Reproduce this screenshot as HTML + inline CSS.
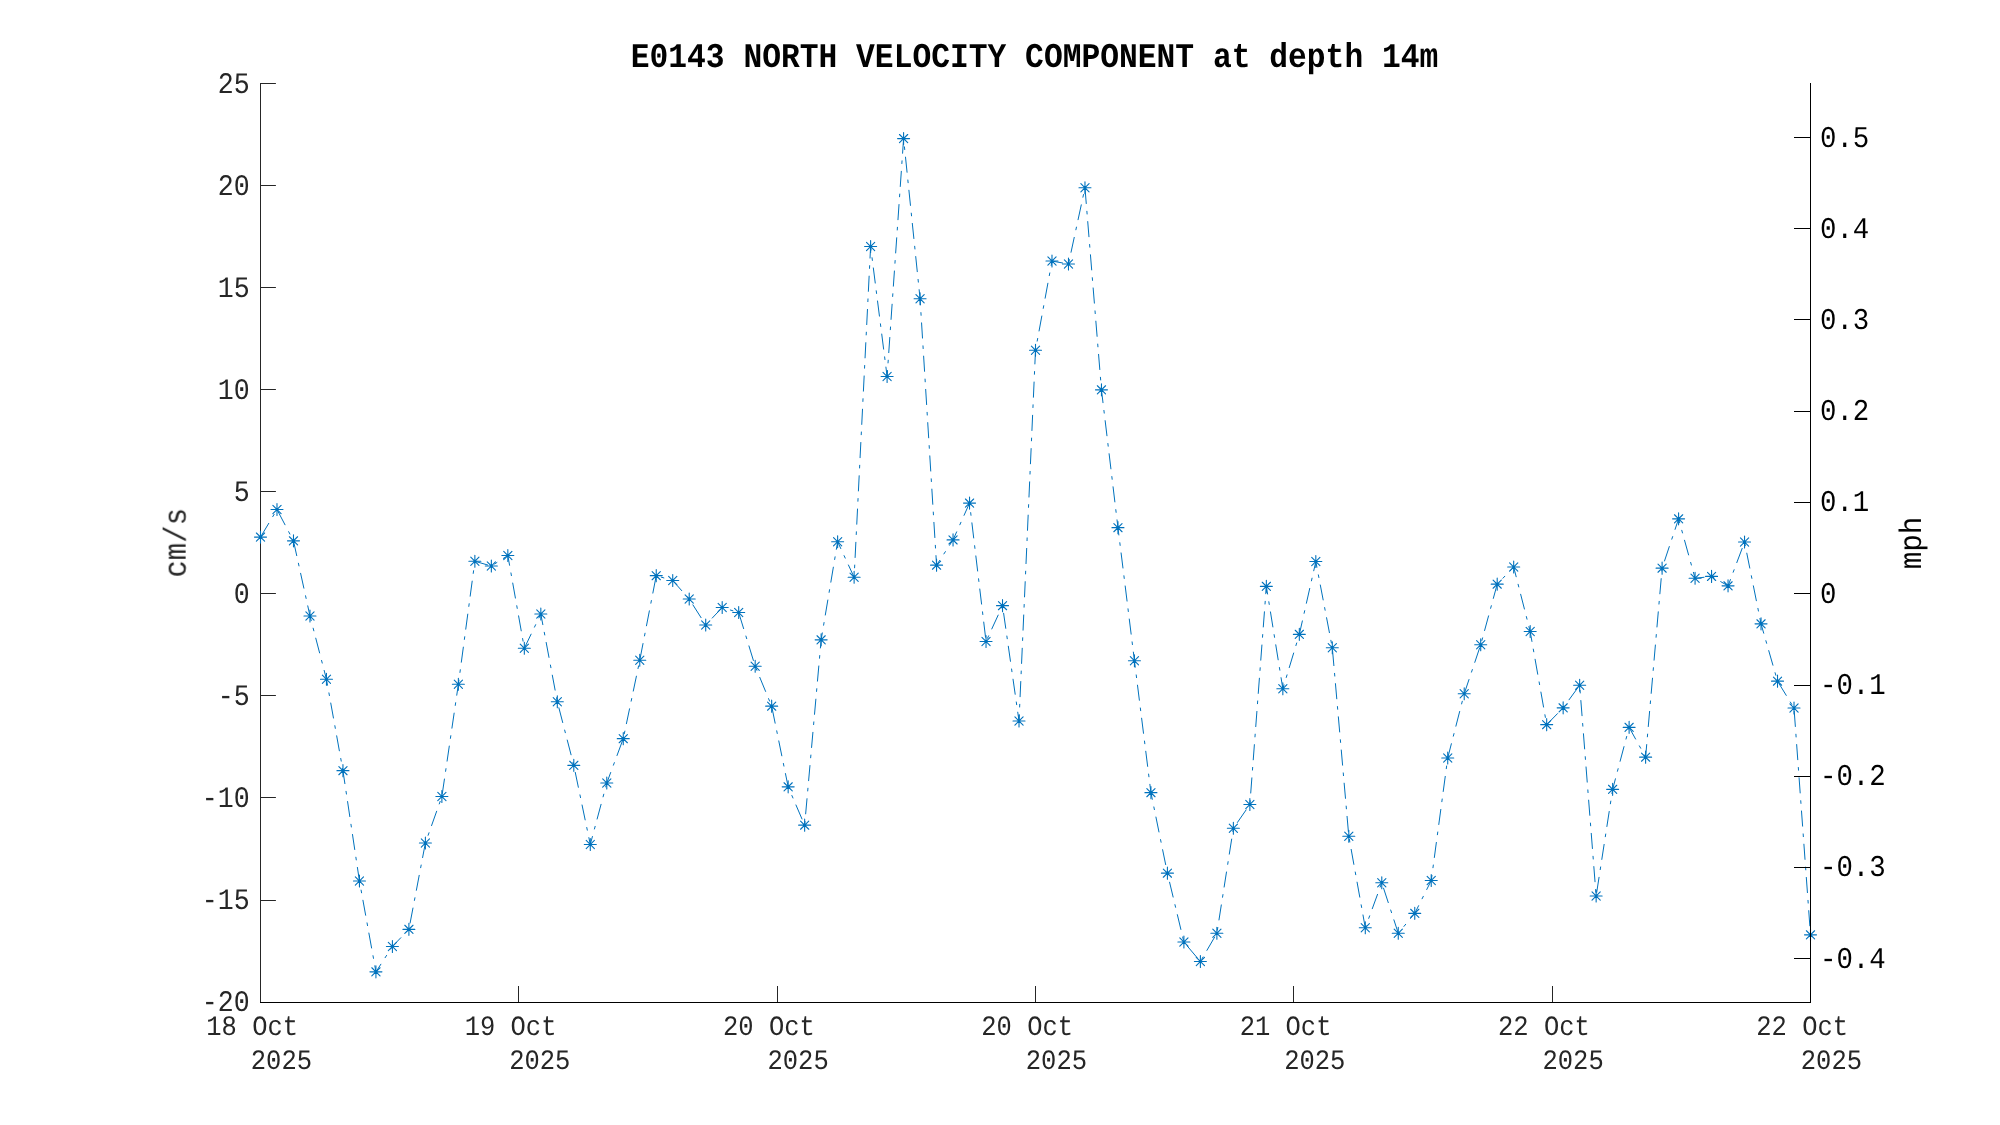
<!DOCTYPE html><html><head><meta charset="utf-8"><style>html,body{margin:0;padding:0;background:#fff;}svg{display:block;}text{font-family:"Liberation Mono",monospace;text-rendering:geometricPrecision;}</style></head><body>
<svg width="2000" height="1125" viewBox="0 0 2000 1125">
<rect width="2000" height="1125" fill="#fff"/>
<path d="M260.5 83.0V1002.5M260.5 83.5h15.4M260.5 185.5h15.4M260.5 287.5h15.4M260.5 389.5h15.4M260.5 491.5h15.4M260.5 593.5h15.4M260.5 695.5h15.4M260.5 797.5h15.4M260.5 900.5h15.4M260.5 1002.5V986M518.5 1002.5V986M777.5 1002.5V986M1035.5 1002.5V986M1293.5 1002.5V986M1552.5 1002.5V986" fill="none" stroke="#262626" stroke-width="1"/>
<polyline points="260.50,537.10 276.99,509.55 293.48,540.85 309.97,615.95 326.46,679.25 342.95,770.65 359.44,881.05 375.93,971.85 392.41,946.45 408.90,929.35 425.39,842.95 441.88,796.55 458.37,684.25 474.86,561.25 491.35,566.05 507.84,555.55 524.33,648.25 540.82,613.95 557.31,701.75 573.80,765.35 590.29,844.45 606.78,783.05 623.27,738.65 639.76,660.25 656.24,575.65 672.73,580.55 689.22,599.05 705.71,624.95 722.20,607.55 738.69,612.55 755.18,666.25 771.67,706.15 788.16,786.85 804.65,825.15 821.14,639.85 837.63,541.75 854.12,577.25 870.61,246.45 887.10,376.45 903.59,138.60 920.07,298.75 936.56,565.15 953.05,539.90 969.54,503.10 986.03,641.45 1002.52,605.65 1019.01,721.05 1035.50,350.25 1051.99,261.05 1068.48,264.05 1084.97,187.75 1101.46,389.85 1117.95,527.65 1134.44,660.75 1150.93,792.65 1167.41,873.15 1183.90,942.05 1200.39,961.55 1216.88,933.25 1233.37,828.25 1249.86,804.55 1266.35,586.35 1282.84,688.75 1299.33,634.35 1315.82,561.55 1332.31,647.75 1348.80,836.25 1365.29,927.75 1381.78,882.75 1398.27,933.25 1414.76,913.35 1431.24,880.55 1447.73,757.95 1464.22,693.75 1480.71,644.75 1497.20,584.15 1513.69,567.05 1530.18,631.55 1546.67,724.65 1563.16,707.85 1579.65,685.25 1596.14,896.05 1612.63,789.35 1629.12,727.35 1645.61,757.15 1662.10,568.15 1678.59,518.85 1695.07,578.30 1711.56,576.40 1728.05,585.85 1744.54,542.05 1761.03,623.85 1777.52,681.15 1794.01,708.05 1810.50,934.85" fill="none" stroke="#0072BD" stroke-width="1" stroke-dasharray="16 7 3.5 6.81" stroke-dashoffset="-0.4" stroke-linejoin="round"/>
<path d="M254.50 537.10h12.0M260.50 531.10v12.0M256.40 533.00l8.2 8.2M256.40 541.20l8.2 -8.2M270.99 509.55h12.0M276.99 503.55v12.0M272.89 505.45l8.2 8.2M272.89 513.65l8.2 -8.2M287.48 540.85h12.0M293.48 534.85v12.0M289.38 536.75l8.2 8.2M289.38 544.95l8.2 -8.2M303.97 615.95h12.0M309.97 609.95v12.0M305.87 611.85l8.2 8.2M305.87 620.05l8.2 -8.2M320.46 679.25h12.0M326.46 673.25v12.0M322.36 675.15l8.2 8.2M322.36 683.35l8.2 -8.2M336.95 770.65h12.0M342.95 764.65v12.0M338.85 766.55l8.2 8.2M338.85 774.75l8.2 -8.2M353.44 881.05h12.0M359.44 875.05v12.0M355.34 876.95l8.2 8.2M355.34 885.15l8.2 -8.2M369.93 971.85h12.0M375.93 965.85v12.0M371.83 967.75l8.2 8.2M371.83 975.95l8.2 -8.2M386.41 946.45h12.0M392.41 940.45v12.0M388.31 942.35l8.2 8.2M388.31 950.55l8.2 -8.2M402.90 929.35h12.0M408.90 923.35v12.0M404.80 925.25l8.2 8.2M404.80 933.45l8.2 -8.2M419.39 842.95h12.0M425.39 836.95v12.0M421.29 838.85l8.2 8.2M421.29 847.05l8.2 -8.2M435.88 796.55h12.0M441.88 790.55v12.0M437.78 792.45l8.2 8.2M437.78 800.65l8.2 -8.2M452.37 684.25h12.0M458.37 678.25v12.0M454.27 680.15l8.2 8.2M454.27 688.35l8.2 -8.2M468.86 561.25h12.0M474.86 555.25v12.0M470.76 557.15l8.2 8.2M470.76 565.35l8.2 -8.2M485.35 566.05h12.0M491.35 560.05v12.0M487.25 561.95l8.2 8.2M487.25 570.15l8.2 -8.2M501.84 555.55h12.0M507.84 549.55v12.0M503.74 551.45l8.2 8.2M503.74 559.65l8.2 -8.2M518.33 648.25h12.0M524.33 642.25v12.0M520.23 644.15l8.2 8.2M520.23 652.35l8.2 -8.2M534.82 613.95h12.0M540.82 607.95v12.0M536.72 609.85l8.2 8.2M536.72 618.05l8.2 -8.2M551.31 701.75h12.0M557.31 695.75v12.0M553.21 697.65l8.2 8.2M553.21 705.85l8.2 -8.2M567.80 765.35h12.0M573.80 759.35v12.0M569.70 761.25l8.2 8.2M569.70 769.45l8.2 -8.2M584.29 844.45h12.0M590.29 838.45v12.0M586.19 840.35l8.2 8.2M586.19 848.55l8.2 -8.2M600.78 783.05h12.0M606.78 777.05v12.0M602.68 778.95l8.2 8.2M602.68 787.15l8.2 -8.2M617.27 738.65h12.0M623.27 732.65v12.0M619.17 734.55l8.2 8.2M619.17 742.75l8.2 -8.2M633.76 660.25h12.0M639.76 654.25v12.0M635.66 656.15l8.2 8.2M635.66 664.35l8.2 -8.2M650.24 575.65h12.0M656.24 569.65v12.0M652.14 571.55l8.2 8.2M652.14 579.75l8.2 -8.2M666.73 580.55h12.0M672.73 574.55v12.0M668.63 576.45l8.2 8.2M668.63 584.65l8.2 -8.2M683.22 599.05h12.0M689.22 593.05v12.0M685.12 594.95l8.2 8.2M685.12 603.15l8.2 -8.2M699.71 624.95h12.0M705.71 618.95v12.0M701.61 620.85l8.2 8.2M701.61 629.05l8.2 -8.2M716.20 607.55h12.0M722.20 601.55v12.0M718.10 603.45l8.2 8.2M718.10 611.65l8.2 -8.2M732.69 612.55h12.0M738.69 606.55v12.0M734.59 608.45l8.2 8.2M734.59 616.65l8.2 -8.2M749.18 666.25h12.0M755.18 660.25v12.0M751.08 662.15l8.2 8.2M751.08 670.35l8.2 -8.2M765.67 706.15h12.0M771.67 700.15v12.0M767.57 702.05l8.2 8.2M767.57 710.25l8.2 -8.2M782.16 786.85h12.0M788.16 780.85v12.0M784.06 782.75l8.2 8.2M784.06 790.95l8.2 -8.2M798.65 825.15h12.0M804.65 819.15v12.0M800.55 821.05l8.2 8.2M800.55 829.25l8.2 -8.2M815.14 639.85h12.0M821.14 633.85v12.0M817.04 635.75l8.2 8.2M817.04 643.95l8.2 -8.2M831.63 541.75h12.0M837.63 535.75v12.0M833.53 537.65l8.2 8.2M833.53 545.85l8.2 -8.2M848.12 577.25h12.0M854.12 571.25v12.0M850.02 573.15l8.2 8.2M850.02 581.35l8.2 -8.2M864.61 246.45h12.0M870.61 240.45v12.0M866.51 242.35l8.2 8.2M866.51 250.55l8.2 -8.2M881.10 376.45h12.0M887.10 370.45v12.0M883.00 372.35l8.2 8.2M883.00 380.55l8.2 -8.2M897.59 138.60h12.0M903.59 132.60v12.0M899.49 134.50l8.2 8.2M899.49 142.70l8.2 -8.2M914.07 298.75h12.0M920.07 292.75v12.0M915.97 294.65l8.2 8.2M915.97 302.85l8.2 -8.2M930.56 565.15h12.0M936.56 559.15v12.0M932.46 561.05l8.2 8.2M932.46 569.25l8.2 -8.2M947.05 539.90h12.0M953.05 533.90v12.0M948.95 535.80l8.2 8.2M948.95 544.00l8.2 -8.2M963.54 503.10h12.0M969.54 497.10v12.0M965.44 499.00l8.2 8.2M965.44 507.20l8.2 -8.2M980.03 641.45h12.0M986.03 635.45v12.0M981.93 637.35l8.2 8.2M981.93 645.55l8.2 -8.2M996.52 605.65h12.0M1002.52 599.65v12.0M998.42 601.55l8.2 8.2M998.42 609.75l8.2 -8.2M1013.01 721.05h12.0M1019.01 715.05v12.0M1014.91 716.95l8.2 8.2M1014.91 725.15l8.2 -8.2M1029.50 350.25h12.0M1035.50 344.25v12.0M1031.40 346.15l8.2 8.2M1031.40 354.35l8.2 -8.2M1045.99 261.05h12.0M1051.99 255.05v12.0M1047.89 256.95l8.2 8.2M1047.89 265.15l8.2 -8.2M1062.48 264.05h12.0M1068.48 258.05v12.0M1064.38 259.95l8.2 8.2M1064.38 268.15l8.2 -8.2M1078.97 187.75h12.0M1084.97 181.75v12.0M1080.87 183.65l8.2 8.2M1080.87 191.85l8.2 -8.2M1095.46 389.85h12.0M1101.46 383.85v12.0M1097.36 385.75l8.2 8.2M1097.36 393.95l8.2 -8.2M1111.95 527.65h12.0M1117.95 521.65v12.0M1113.85 523.55l8.2 8.2M1113.85 531.75l8.2 -8.2M1128.44 660.75h12.0M1134.44 654.75v12.0M1130.34 656.65l8.2 8.2M1130.34 664.85l8.2 -8.2M1144.93 792.65h12.0M1150.93 786.65v12.0M1146.83 788.55l8.2 8.2M1146.83 796.75l8.2 -8.2M1161.41 873.15h12.0M1167.41 867.15v12.0M1163.31 869.05l8.2 8.2M1163.31 877.25l8.2 -8.2M1177.90 942.05h12.0M1183.90 936.05v12.0M1179.80 937.95l8.2 8.2M1179.80 946.15l8.2 -8.2M1194.39 961.55h12.0M1200.39 955.55v12.0M1196.29 957.45l8.2 8.2M1196.29 965.65l8.2 -8.2M1210.88 933.25h12.0M1216.88 927.25v12.0M1212.78 929.15l8.2 8.2M1212.78 937.35l8.2 -8.2M1227.37 828.25h12.0M1233.37 822.25v12.0M1229.27 824.15l8.2 8.2M1229.27 832.35l8.2 -8.2M1243.86 804.55h12.0M1249.86 798.55v12.0M1245.76 800.45l8.2 8.2M1245.76 808.65l8.2 -8.2M1260.35 586.35h12.0M1266.35 580.35v12.0M1262.25 582.25l8.2 8.2M1262.25 590.45l8.2 -8.2M1276.84 688.75h12.0M1282.84 682.75v12.0M1278.74 684.65l8.2 8.2M1278.74 692.85l8.2 -8.2M1293.33 634.35h12.0M1299.33 628.35v12.0M1295.23 630.25l8.2 8.2M1295.23 638.45l8.2 -8.2M1309.82 561.55h12.0M1315.82 555.55v12.0M1311.72 557.45l8.2 8.2M1311.72 565.65l8.2 -8.2M1326.31 647.75h12.0M1332.31 641.75v12.0M1328.21 643.65l8.2 8.2M1328.21 651.85l8.2 -8.2M1342.80 836.25h12.0M1348.80 830.25v12.0M1344.70 832.15l8.2 8.2M1344.70 840.35l8.2 -8.2M1359.29 927.75h12.0M1365.29 921.75v12.0M1361.19 923.65l8.2 8.2M1361.19 931.85l8.2 -8.2M1375.78 882.75h12.0M1381.78 876.75v12.0M1377.68 878.65l8.2 8.2M1377.68 886.85l8.2 -8.2M1392.27 933.25h12.0M1398.27 927.25v12.0M1394.17 929.15l8.2 8.2M1394.17 937.35l8.2 -8.2M1408.76 913.35h12.0M1414.76 907.35v12.0M1410.66 909.25l8.2 8.2M1410.66 917.45l8.2 -8.2M1425.24 880.55h12.0M1431.24 874.55v12.0M1427.14 876.45l8.2 8.2M1427.14 884.65l8.2 -8.2M1441.73 757.95h12.0M1447.73 751.95v12.0M1443.63 753.85l8.2 8.2M1443.63 762.05l8.2 -8.2M1458.22 693.75h12.0M1464.22 687.75v12.0M1460.12 689.65l8.2 8.2M1460.12 697.85l8.2 -8.2M1474.71 644.75h12.0M1480.71 638.75v12.0M1476.61 640.65l8.2 8.2M1476.61 648.85l8.2 -8.2M1491.20 584.15h12.0M1497.20 578.15v12.0M1493.10 580.05l8.2 8.2M1493.10 588.25l8.2 -8.2M1507.69 567.05h12.0M1513.69 561.05v12.0M1509.59 562.95l8.2 8.2M1509.59 571.15l8.2 -8.2M1524.18 631.55h12.0M1530.18 625.55v12.0M1526.08 627.45l8.2 8.2M1526.08 635.65l8.2 -8.2M1540.67 724.65h12.0M1546.67 718.65v12.0M1542.57 720.55l8.2 8.2M1542.57 728.75l8.2 -8.2M1557.16 707.85h12.0M1563.16 701.85v12.0M1559.06 703.75l8.2 8.2M1559.06 711.95l8.2 -8.2M1573.65 685.25h12.0M1579.65 679.25v12.0M1575.55 681.15l8.2 8.2M1575.55 689.35l8.2 -8.2M1590.14 896.05h12.0M1596.14 890.05v12.0M1592.04 891.95l8.2 8.2M1592.04 900.15l8.2 -8.2M1606.63 789.35h12.0M1612.63 783.35v12.0M1608.53 785.25l8.2 8.2M1608.53 793.45l8.2 -8.2M1623.12 727.35h12.0M1629.12 721.35v12.0M1625.02 723.25l8.2 8.2M1625.02 731.45l8.2 -8.2M1639.61 757.15h12.0M1645.61 751.15v12.0M1641.51 753.05l8.2 8.2M1641.51 761.25l8.2 -8.2M1656.10 568.15h12.0M1662.10 562.15v12.0M1658.00 564.05l8.2 8.2M1658.00 572.25l8.2 -8.2M1672.59 518.85h12.0M1678.59 512.85v12.0M1674.49 514.75l8.2 8.2M1674.49 522.95l8.2 -8.2M1689.07 578.30h12.0M1695.07 572.30v12.0M1690.97 574.20l8.2 8.2M1690.97 582.40l8.2 -8.2M1705.56 576.40h12.0M1711.56 570.40v12.0M1707.46 572.30l8.2 8.2M1707.46 580.50l8.2 -8.2M1722.05 585.85h12.0M1728.05 579.85v12.0M1723.95 581.75l8.2 8.2M1723.95 589.95l8.2 -8.2M1738.54 542.05h12.0M1744.54 536.05v12.0M1740.44 537.95l8.2 8.2M1740.44 546.15l8.2 -8.2M1755.03 623.85h12.0M1761.03 617.85v12.0M1756.93 619.75l8.2 8.2M1756.93 627.95l8.2 -8.2M1771.52 681.15h12.0M1777.52 675.15v12.0M1773.42 677.05l8.2 8.2M1773.42 685.25l8.2 -8.2M1788.01 708.05h12.0M1794.01 702.05v12.0M1789.91 703.95l8.2 8.2M1789.91 712.15l8.2 -8.2M1804.50 934.85h12.0M1810.50 928.85v12.0M1806.40 930.75l8.2 8.2M1806.40 938.95l8.2 -8.2" fill="none" stroke="#0072BD" stroke-width="1.1" stroke-linecap="round"/>
<path d="M1810.5 83.0V1002.5M260.0 1002.5H1811.0M1810.5 137.5h-16.5M1810.5 228.5h-16.5M1810.5 319.5h-16.5M1810.5 411.5h-16.5M1810.5 502.5h-16.5M1810.5 593.5h-16.5M1810.5 685.5h-16.5M1810.5 776.5h-16.5M1810.5 867.5h-16.5M1810.5 958.5h-16.5" fill="none" stroke="#000" stroke-width="1"/>
<g opacity="0.999">
<text transform="translate(249.6 92.90) scale(1 1.12)" font-size="26.6" fill="#262626" text-anchor="end">25</text>
<text transform="translate(249.6 194.90) scale(1 1.12)" font-size="26.6" fill="#262626" text-anchor="end">20</text>
<text transform="translate(249.6 296.90) scale(1 1.12)" font-size="26.6" fill="#262626" text-anchor="end">15</text>
<text transform="translate(249.6 398.90) scale(1 1.12)" font-size="26.6" fill="#262626" text-anchor="end">10</text>
<text transform="translate(249.6 500.90) scale(1 1.12)" font-size="26.6" fill="#262626" text-anchor="end">5</text>
<text transform="translate(249.6 602.90) scale(1 1.12)" font-size="26.6" fill="#262626" text-anchor="end">0</text>
<text transform="translate(249.6 704.90) scale(1 1.12)" font-size="26.6" fill="#262626" text-anchor="end">-5</text>
<text transform="translate(249.6 806.90) scale(1 1.12)" font-size="26.6" fill="#262626" text-anchor="end">-10</text>
<text transform="translate(249.6 908.90) scale(1 1.12)" font-size="26.6" fill="#262626" text-anchor="end">-15</text>
<text transform="translate(249.6 1010.90) scale(1 1.12)" font-size="26.6" fill="#262626" text-anchor="end">-20</text>
<text transform="translate(1819.95 967.53) scale(1 1.10)" font-size="27.4" fill="#000">-0.4</text>
<text transform="translate(1819.95 876.31) scale(1 1.10)" font-size="27.4" fill="#000">-0.3</text>
<text transform="translate(1819.95 785.09) scale(1 1.10)" font-size="27.4" fill="#000">-0.2</text>
<text transform="translate(1819.95 693.87) scale(1 1.10)" font-size="27.4" fill="#000">-0.1</text>
<text transform="translate(1819.95 602.65) scale(1 1.10)" font-size="27.4" fill="#000">0</text>
<text transform="translate(1819.95 511.43) scale(1 1.10)" font-size="27.4" fill="#000">0.1</text>
<text transform="translate(1819.95 420.21) scale(1 1.10)" font-size="27.4" fill="#000">0.2</text>
<text transform="translate(1819.95 328.99) scale(1 1.10)" font-size="27.4" fill="#000">0.3</text>
<text transform="translate(1819.95 237.77) scale(1 1.10)" font-size="27.4" fill="#000">0.4</text>
<text transform="translate(1819.95 146.55) scale(1 1.10)" font-size="27.4" fill="#000">0.5</text>
<text transform="translate(206.30 1035.3) scale(1 1.10)" font-size="25.5" fill="#262626">18 Oct</text>
<text transform="translate(250.80 1068.9) scale(1 1.10)" font-size="25.5" fill="#262626">2025</text>
<text transform="translate(464.63 1035.3) scale(1 1.10)" font-size="25.5" fill="#262626">19 Oct</text>
<text transform="translate(509.13 1068.9) scale(1 1.10)" font-size="25.5" fill="#262626">2025</text>
<text transform="translate(722.97 1035.3) scale(1 1.10)" font-size="25.5" fill="#262626">20 Oct</text>
<text transform="translate(767.47 1068.9) scale(1 1.10)" font-size="25.5" fill="#262626">2025</text>
<text transform="translate(981.30 1035.3) scale(1 1.10)" font-size="25.5" fill="#262626">20 Oct</text>
<text transform="translate(1025.80 1068.9) scale(1 1.10)" font-size="25.5" fill="#262626">2025</text>
<text transform="translate(1239.63 1035.3) scale(1 1.10)" font-size="25.5" fill="#262626">21 Oct</text>
<text transform="translate(1284.13 1068.9) scale(1 1.10)" font-size="25.5" fill="#262626">2025</text>
<text transform="translate(1497.97 1035.3) scale(1 1.10)" font-size="25.5" fill="#262626">22 Oct</text>
<text transform="translate(1542.47 1068.9) scale(1 1.10)" font-size="25.5" fill="#262626">2025</text>
<text transform="translate(1756.30 1035.3) scale(1 1.10)" font-size="25.5" fill="#262626">22 Oct</text>
<text transform="translate(1800.80 1068.9) scale(1 1.10)" font-size="25.5" fill="#262626">2025</text>
<text transform="translate(1034.5 67) scale(1 1.107)" font-size="31.3" font-weight="bold" fill="#000" text-anchor="middle">E0143 NORTH VELOCITY COMPONENT at depth 14m</text>
<text transform="translate(185.8 542.8) rotate(-90) scale(1 1.09)" font-size="29" fill="#262626" text-anchor="middle">cm/s</text>
<text transform="translate(1921.4 543.0) rotate(-90) scale(1 1.06)" font-size="29.3" fill="#000" text-anchor="middle">mph</text>
</g>
</svg></body></html>
